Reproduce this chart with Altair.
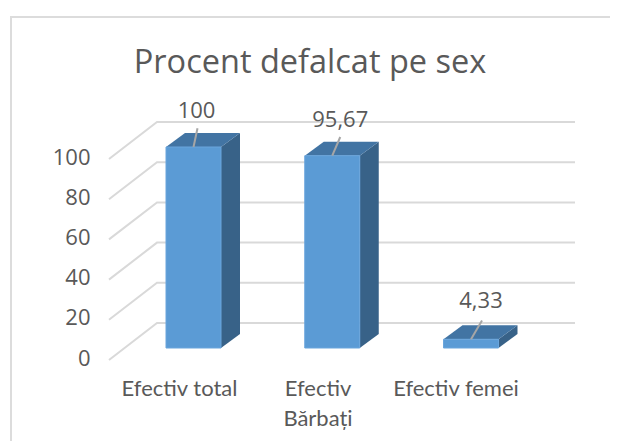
import altair as alt
import pandas as pd

categories = ["Efectiv total", "Efectiv\nBărbați", "Efectiv femei"]
values = [100, 95.67, 4.33]
value_labels = ["100", "95,67", "4,33"]
ticks = [0, 20, 40, 60, 80, 100]
chart_title = "Procent defalcat pe sex"

FONT = "Open Sans"
CAT_FONT = "Lato"
TXT = "#595959"
GRID = "#d9d9d9"
W, H = 600, 425
OX, OY = 2, 8
PX = 2.01
ZERO = 348 - 16
BAR0, STEP, BW = 156, 138.75, 55
DX, DZ = 19, 14 / PX
WALL_X, WALL_Z, END_X = 147, 25 / PX, 565
EDGE_X, EDGE_Z = 99, -12 / PX
LEAD_DX = [4, 8, 11]
LABEL_DX = [3, 8, 10]
LABEL_DZ = [18, 18, 19]
CAT_X = [169.5, 308, 446]

xs = alt.Scale(domain=[0, W], range=[0, W], nice=False, zero=False)
ys = alt.Scale(domain=[(ZERO - H) / PX, ZERO / PX], range=[H, 0], nice=False, zero=False)

grid_rows = []
for t in ticks:
    for o, (x, z) in enumerate([(EDGE_X, EDGE_Z), (WALL_X, WALL_Z), (END_X, WALL_Z)]):
        grid_rows.append({"t": t, "o": o, "x": x, "y": t + z})

front, side, top, leader, labels = [], [], [], [], []
for i, (c, v, l) in enumerate(zip(categories, values, value_labels)):
    left = BAR0 + STEP * i
    right = left + BW
    front.append({"x": left, "x2": right, "y": 0, "y2": v})
    side += [{"c": c, "x": right, "y": v, "y2": 0},
             {"c": c, "x": right + DX, "y": v + DZ, "y2": DZ}]
    top += [{"c": c, "x": left, "y": v, "y2": v},
            {"c": c, "x": left + DX, "y": v + DZ, "y2": v},
            {"c": c, "x": right, "y": v + DZ, "y2": v},
            {"c": c, "x": right + DX, "y": v + DZ, "y2": v + DZ}]
    mid = left + BW / 2
    leader.append({"x": mid, "x2": mid + LEAD_DX[i], "y": v, "y2": v + 9.3})
    labels.append({"x": mid + LABEL_DX[i], "y": v + LABEL_DZ[i], "t": l})

cat_df = pd.DataFrame({"x": CAT_X, "c": categories})

axis_y = alt.Axis(values=ticks, offset=-80, domain=False, ticks=False, grid=False,
                  title=None, labelFont=FONT, labelFontSize=22, labelColor=TXT,
                  labelOffset=10, labelPadding=0, labelLimit=0)
X = lambda f="x": alt.X(f"{f}:Q", scale=xs, axis=None)
Y = lambda f="y": alt.Y(f"{f}:Q", scale=ys, axis=axis_y)

frame_top = alt.Chart(pd.DataFrame({"a": [0]})).mark_rule(color="#dcdcdc", strokeWidth=2).encode(
    x=alt.value(0), x2=alt.value(W), y=alt.value(1))
frame_left = alt.Chart(pd.DataFrame({"a": [0]})).mark_rule(color="#dcdcdc", strokeWidth=2).encode(
    x=alt.value(1), y=alt.value(0), y2=alt.value(H))
grid = alt.Chart(pd.DataFrame(grid_rows)).mark_line(color=GRID, strokeWidth=2).encode(
    x=X(), y=Y(), detail="t:N", order="o:Q")
side_m = alt.Chart(pd.DataFrame(side)).mark_area(color="#386288").encode(
    x=X(), y=Y(), y2="y2:Q", detail="c:N")
top_m = alt.Chart(pd.DataFrame(top)).mark_area(color="#4274a3").encode(
    x=X(), y=Y(), y2="y2:Q", detail="c:N")
front_m = alt.Chart(pd.DataFrame(front)).mark_rect(
    color="#5b9bd5", stroke="#6aa5dc", strokeWidth=1).encode(
    x=X(), x2="x2:Q", y=Y(), y2="y2:Q")
lead_m = alt.Chart(pd.DataFrame(leader)).mark_rule(color="#a6a6a6", strokeWidth=2).encode(
    x=X(), x2="x2:Q", y=Y(), y2="y2:Q")
lab_m = alt.Chart(pd.DataFrame(labels)).mark_text(
    font=FONT, fontSize=22, color=TXT, baseline="middle").encode(x=X(), y=Y(), text="t:N")
cat_m = alt.Chart(cat_df).mark_text(
    font=CAT_FONT, fontSize=22, color=TXT, baseline="top", lineBreak="\n", lineHeight=30).encode(
    x=X(), y=alt.value(363), text="c:N")

chart = alt.layer(frame_top, frame_left, grid, side_m, top_m, front_m, lead_m, lab_m, cat_m).properties(
    width=W, height=H,
    padding={"left": OX, "top": OY, "right": 0, "bottom": 0},
    autosize=alt.AutoSizeParams(type="none"),
    title=alt.TitleParams(chart_title, font=FONT, fontSize=32.5, fontWeight="normal",
                          color=TXT, anchor="middle", offset=-64, frame="group"),
).configure_view(strokeWidth=0, fill="white").configure(background="white")

chart.save("out.html", embed_options={"renderer": "svg", "actions": False})
